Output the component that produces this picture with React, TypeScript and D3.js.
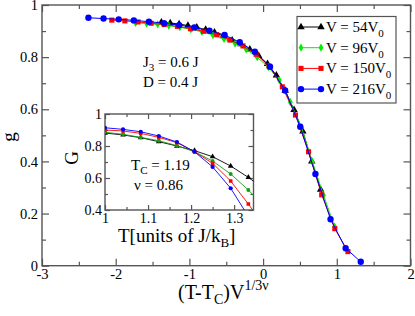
import React, { useEffect, useRef } from 'react';
import * as d3 from 'd3';

// main panel: scaling variable (T-Tc)V^(1/3nu) and g, one pair per lattice size
const x54 = [-1.38, -1.26, -1.14, -1.02, -0.9, -0.78, -0.66, -0.54, -0.42, -0.3, -0.18, -0.06, 0.06, 0.18, 0.3, 0.42, 0.54, 0.66, 0.78];
const g54 = [0.934, 0.931, 0.927, 0.921, 0.914, 0.906, 0.895, 0.881, 0.865, 0.85, 0.83, 0.805, 0.774, 0.73, 0.672, 0.598, 0.515, 0.4, 0.292];

const x96 = [-1.73, -1.58, -1.43, -1.28, -1.13, -0.98, -0.83, -0.68, -0.53, -0.38, -0.23, -0.08, 0.07, 0.22, 0.37, 0.52, 0.67, 0.82, 0.97];
const g96 = [0.932, 0.929, 0.926, 0.921, 0.915, 0.907, 0.897, 0.885, 0.87, 0.852, 0.83, 0.8, 0.762, 0.712, 0.627, 0.53, 0.398, 0.27, 0.15];

const x150 = [-2.053, -1.875, -1.697, -1.519, -1.341, -1.163, -0.985, -0.807, -0.629, -0.451, -0.273, -0.095, 0.083, 0.261, 0.439, 0.617, 0.795, 0.973, 1.151];
const g150 = [0.942, 0.939, 0.935, 0.93, 0.925, 0.918, 0.909, 0.899, 0.886, 0.866, 0.843, 0.811, 0.765, 0.686, 0.578, 0.437, 0.272, 0.142, 0.054];

const x216 = [-2.37, -2.165, -1.959, -1.754, -1.549, -1.343, -1.138, -0.933, -0.728, -0.522, -0.317, -0.112, 0.094, 0.299, 0.504, 0.71, 0.915, 1.12, 1.325];
const g216 = [0.951, 0.948, 0.945, 0.941, 0.936, 0.93, 0.923, 0.914, 0.901, 0.885, 0.857, 0.821, 0.763, 0.672, 0.533, 0.352, 0.178, 0.067, 0.015];

// inset: temperature and G
const tInset = [1.0, 1.042, 1.083, 1.125, 1.167, 1.208, 1.25, 1.292, 1.333, 1.375];
const G54 = [0.881, 0.869, 0.852, 0.827, 0.8, 0.771, 0.733, 0.675, 0.604, 0.52];
const G96 = [0.886, 0.873, 0.854, 0.833, 0.802, 0.764, 0.706, 0.625, 0.525, 0.41];
const G150 = [0.9, 0.894, 0.879, 0.854, 0.821, 0.764, 0.692, 0.581, 0.4375, 0.28];
const G216 = [0.914, 0.904, 0.889, 0.8625, 0.825, 0.764, 0.669, 0.536, 0.36, 0.19];

const sizes = ['54', '96', '150', '216'];
const xTicks = [-3, -2, -1, 0, 1, 2];
const yTicks = [0, 0.2, 0.4, 0.6, 0.8, 1];
const insetXTicks = [1, 1.1, 1.2, 1.3];
const insetYTicks = [0.4, 0.6, 0.8, 1];

const FONT = '"Liberation Serif", "DejaVu Serif", serif';
const AXIS = '#555';

const styles = [
  { color: '#000000', inset: '#000000', sym: d3.symbolTriangle, size: 24, isize: 14 },
  { color: '#00ee00', inset: '#169c16', sym: d3.symbolDiamond, size: 20, isize: 12 },
  { color: '#ff0000', inset: '#ff0000', sym: d3.symbolSquare, size: 26, isize: 13 },
  { color: '#0000ff', inset: '#0000ff', sym: d3.symbolCircle, size: 32, isize: 14 },
];

function drawFrame(g: any, x: any, y: any, o: any) {
  const [x0, x1] = x.range();
  const [y0, y1] = y.range();
  g.append('rect')
    .attr('x', x0).attr('y', y1)
    .attr('width', x1 - x0).attr('height', y0 - y1)
    .attr('fill', 'white');

  const put = (axis: any, tr: string, labels: boolean) => {
    const a = g.append('g').attr('transform', tr).call(axis);
    a.select('.domain').remove();
    a.selectAll('line').attr('stroke', AXIS).attr('stroke-width', 1.2);
    a.attr('font-family', FONT).attr('font-size', o.fs);
    a.selectAll('text').attr('fill', 'black');
    if (!labels) a.selectAll('text').remove();
    return a;
  };
  const fmt = (d: any) => String(d);

  put(d3.axisBottom(x).tickValues(o.xMajor).tickSize(-o.major).tickPadding(o.xpad).tickFormat(fmt), `translate(0,${y0})`, true);
  put(d3.axisBottom(x).tickValues(o.xMinor).tickSize(-o.minor), `translate(0,${y0})`, false);
  put(d3.axisTop(x).tickValues(o.xMajor).tickSize(-o.major), `translate(0,${y1})`, false);
  put(d3.axisTop(x).tickValues(o.xMinor).tickSize(-o.minor), `translate(0,${y1})`, false);
  put(d3.axisLeft(y).tickValues(o.yMajor).tickSize(-o.major).tickPadding(o.ypad).tickFormat(fmt), `translate(${x0},0)`, true);
  put(d3.axisLeft(y).tickValues(o.yMinor).tickSize(-o.minor), `translate(${x0},0)`, false);
  put(d3.axisRight(y).tickValues(o.yMajor).tickSize(-o.major), `translate(${x1},0)`, false);
  put(d3.axisRight(y).tickValues(o.yMinor).tickSize(-o.minor), `translate(${x1},0)`, false);

  g.append('rect')
    .attr('x', x0).attr('y', y1)
    .attr('width', x1 - x0).attr('height', y0 - y1)
    .attr('fill', 'none').attr('stroke', AXIS).attr('stroke-width', 1.4);
}

function notMajor(vals: number[], majors: number[]) {
  return vals.filter(v => !majors.some(m => Math.abs(m - v) < 1e-6));
}

export default function App() {
  const ref = useRef<SVGSVGElement>(null);

  useEffect(() => {
    const svg = d3.select(ref.current);
    svg.selectAll('*').remove();

    // ---------- main panel
    const x = d3.scaleLinear().domain([-3, 2]).range([42, 410.5]);
    const y = d3.scaleLinear().domain([0, 1]).range([265.7, 5]);
    const main = svg.append('g');
    drawFrame(main, x, y, {
      xMajor: xTicks, xMinor: notMajor(d3.range(-3, 2.01, 0.5), xTicks),
      yMajor: yTicks, yMinor: notMajor(d3.range(0, 1.01, 0.1), yTicks),
      major: 7, minor: 4, xpad: 3.5, ypad: 4, fs: 14.5,
    });

    const mainX = [x54, x96, x150, x216];
    const mainG = [g54, g96, g150, g216];
    mainX.forEach((xs, i) => {
      const pts = xs.map((v, j) => [v, mainG[i][j]] as [number, number]);
      const st = styles[i];
      main.append('path')
        .attr('d', d3.line().x(d => x(d[0])).y(d => y(d[1]))(pts))
        .attr('fill', 'none').attr('stroke', st.color).attr('stroke-width', 1);
      main.selectAll(null).data(pts).enter().append('path')
        .attr('d', d3.symbol().type(st.sym).size(st.size)())
        .attr('transform', d => `translate(${x(d[0])},${y(d[1])})`)
        .attr('fill', st.color);
    });

    // axis titles
    const xl = main.append('text').attr('x', 178).attr('y', 298.5)
      .attr('font-family', FONT).attr('font-size', 20).attr('fill', 'black');
    xl.append('tspan').text('(T-T');
    xl.append('tspan').text('C').attr('font-size', 14).attr('dy', 5);
    xl.append('tspan').text(')V').attr('dy', -5);
    xl.append('tspan').text('1/3ν').attr('font-size', 14).attr('dy', -9);

    main.append('text').text('g')
      .attr('transform', 'translate(15,137) rotate(-90)')
      .attr('text-anchor', 'middle')
      .attr('font-family', FONT).attr('font-size', 19).attr('fill', 'black');

    // parameters
    const j3 = main.append('text').attr('x', 143).attr('y', 67)
      .attr('font-family', FONT).attr('font-size', 15).attr('fill', 'black');
    j3.append('tspan').text('J');
    j3.append('tspan').text('3').attr('font-size', 11).attr('dy', 4);
    j3.append('tspan').text(' = 0.6 J').attr('dy', -4);
    main.append('text').attr('x', 143).attr('y', 86.5)
      .attr('font-family', FONT).attr('font-size', 15).attr('fill', 'black')
      .text('D = 0.4 J');

    // legend
    const lg = main.append('g');
    lg.append('rect').attr('x', 297).attr('y', 16.5).attr('width', 99).attr('height', 86.5)
      .attr('fill', 'white').attr('stroke', AXIS).attr('stroke-width', 1.2);
    sizes.forEach((s, i) => {
      const st = styles[i];
      const cy = 27 + i * 20.7;
      lg.append('line').attr('x1', 301).attr('x2', 321).attr('y1', cy).attr('y2', cy)
        .attr('stroke', st.color).attr('stroke-width', 1);
      [301, 321].forEach(cx => {
        lg.append('path').attr('d', d3.symbol().type(st.sym).size(st.size)())
          .attr('transform', `translate(${cx},${cy})`).attr('fill', st.color);
      });
      const t = lg.append('text').attr('x', 326).attr('y', cy + 5)
        .attr('font-family', FONT).attr('font-size', 15).attr('fill', 'black');
      t.append('tspan').text(`V = ${s}V`);
      t.append('tspan').text('0').attr('font-size', 11).attr('dy', 5);
    });

    // ---------- inset
    const ix = d3.scaleLinear().domain([1, 1.345]).range([105, 253.5]);
    const iy = d3.scaleLinear().domain([0.4, 1]).range([210, 114]);
    const ins = svg.append('g');
    drawFrame(ins, ix, iy, {
      xMajor: insetXTicks, xMinor: notMajor(d3.range(1, 1.345, 0.05), insetXTicks),
      yMajor: insetYTicks, yMinor: notMajor(d3.range(0.4, 1.01, 0.1), insetYTicks),
      major: 5, minor: 3, xpad: 3, ypad: 3, fs: 14,
    });

    svg.append('clipPath').attr('id', 'inset-clip')
      .append('rect').attr('x', 105).attr('y', 114).attr('width', 148.5).attr('height', 96);
    const plot = ins.append('g').attr('clip-path', 'url(#inset-clip)');
    [G54, G96, G150, G216].forEach((gs, i) => {
      const pts = tInset.map((t, j) => [t, gs[j]] as [number, number]);
      const st = styles[i];
      plot.append('path')
        .attr('d', d3.line().x(d => ix(d[0])).y(d => iy(d[1]))(pts))
        .attr('fill', 'none').attr('stroke', st.inset).attr('stroke-width', 0.9);
      plot.selectAll(null).data(pts).enter().append('path')
        .attr('d', d3.symbol().type(i === 1 ? d3.symbolCircle : st.sym).size(st.isize)())
        .attr('transform', d => `translate(${ix(d[0])},${iy(d[1])})`)
        .attr('fill', st.inset);
    });

    const xi = ins.append('text').attr('x', 118).attr('y', 242)
      .attr('font-family', FONT).attr('font-size', 19).attr('fill', 'black');
    xi.append('tspan').text('T[units of J/k');
    xi.append('tspan').text('B').attr('font-size', 13).attr('dy', 5);
    xi.append('tspan').text(']').attr('dy', -5);

    ins.append('text').text('G')
      .attr('transform', 'translate(78,158) rotate(-90)')
      .attr('text-anchor', 'middle')
      .attr('font-family', FONT).attr('font-size', 19).attr('fill', 'black');

    const tc = ins.append('text').attr('x', 131).attr('y', 170)
      .attr('font-family', FONT).attr('font-size', 15).attr('fill', 'black');
    tc.append('tspan').text('T');
    tc.append('tspan').text('C').attr('font-size', 11).attr('dy', 4);
    tc.append('tspan').text(' = 1.19').attr('dy', -4);
    ins.append('text').attr('x', 134).attr('y', 190)
      .attr('font-family', FONT).attr('font-size', 15).attr('fill', 'black')
      .text('ν  = 0.86');
  }, []);

  return (
    <svg ref={ref} width={415} height={316}
      style={{ position: 'absolute', left: 0, top: 0, background: 'white' }} />
  );
}
